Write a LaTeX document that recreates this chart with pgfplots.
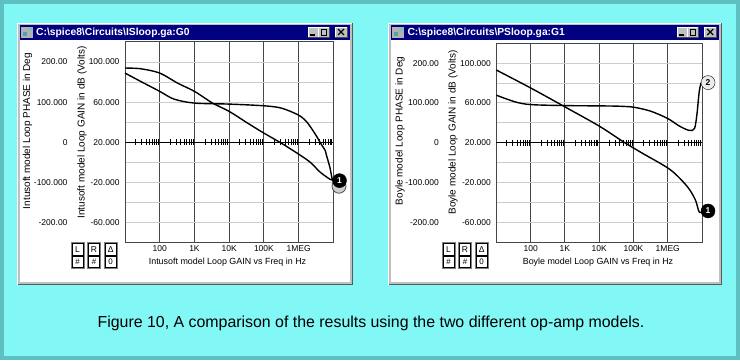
\documentclass[border=0pt]{standalone}
\usepackage{fontspec}
\setmainfont{Liberation Sans}
\usepackage{pgfplots}
\pgfplotsset{compat=1.18}
\definecolor{bgcyan}{HTML}{82F8F6}
\definecolor{bgedge}{HTML}{5EC0C0}
\definecolor{navy}{HTML}{000080}
\definecolor{wingray}{HTML}{C0C0C0}
\definecolor{hgrid}{HTML}{C8D0C8}
\definecolor{vgrid}{HTML}{404848}

\pgfplotsset{
 curve/.style={black, line width=1.4bp, smooth, tension=0.5, mark=none},
 blackmark/.style={only marks, mark=*, mark size=7bp,
   mark options={fill=black, draw=black},
   every node near coord/.append style={anchor=center, text=white,
     font=\fontsize{8.5bp}{9bp}\selectfont\bfseries}},
 graymark/.style={only marks, mark=*, mark size=7bp,
   mark options={fill=wingray!80, draw=black!70, line width=0.8bp},
   every node near coord/.append style={anchor=center, text=black,
     font=\fontsize{8.5bp}{9bp}\selectfont\bfseries}},
 zerotick/.style={only marks, mark=|, mark size=3bp,
   mark options={black, line width=0.7bp}},
}

\newcommand{\winframe}[3]{%
  \fill[wingray] (#1,75) rectangle (#2,337);
  \draw[black!65, line width=1bp] (#1,75.5) -- (#2-0.5,75.5) -- (#2-0.5,337);
  \draw[white, line width=0.8bp] (#1+0.5,75.5) -- (#1+0.5,336.5) -- (#2-0.5,336.5);
  \fill[white] (#1+3,78) rectangle (#2-3,320);
  \fill[navy] (#1+2.5,320) rectangle (#2-2.5,335);
  \fill[gray!60] (#1+4,322.5) rectangle (#1+16,333);
  \fill[teal!70] (#1+5.5,324) rectangle (#1+10,328);
  \fill[teal!50] (#1+10.5,328.5) rectangle (#1+14.5,332);
  \node[anchor=west, inner sep=0pt, text=white,
    font=\fontsize{10.3bp}{12bp}\selectfont\bfseries] at (#1+19,327.5) {#3};
  \foreach \a/\b in {44.5/34.5, 34/23.5, 17.5/5.5}{
    \fill[wingray] (#2-\a,323) rectangle (#2-\b,333);
    \draw[black!70, line width=0.6bp] (#2-\a,323) -- (#2-\b,323) -- (#2-\b,333);
    \draw[white, line width=0.6bp] (#2-\a,323) -- (#2-\a,333) -- (#2-\b,333);
  }
  \draw[black, line width=1.2bp] (#2-42.5,325) -- (#2-37.5,325);
  \draw[black, line width=0.8bp] (#2-31.5,325) rectangle (#2-26,331);
  \draw[black, line width=1bp] (#2-31.5,330.5) -- (#2-26,330.5);
  \draw[black, line width=1.2bp] (#2-14.5,325) -- (#2-8.5,331) (#2-14.5,331) -- (#2-8.5,325);
}
\newcommand{\ctrlboxes}[1]{%
  \foreach \a/\t/\u in {0/L/\#, 16.5/R/\#, 33.2/Δ/0}{
    \draw[black, line width=0.7bp] (#1+\a,104.7) rectangle (#1+\a+11,116.5);
    \draw[black, line width=0.7bp] (#1+\a,92.5) rectangle (#1+\a+11,104);
    \draw[gray, line width=0.5bp] (#1+\a-1.2,91.5) rectangle (#1+\a+12.2,117.5);
    \node[font=\fontsize{8.5bp}{10bp}\selectfont, inner sep=0pt] at (#1+\a+5.5,110.6) {\t};
    \node[font=\fontsize{8bp}{10bp}\selectfont, inner sep=0pt] at (#1+\a+5.5,98.2) {\u};
  }
}

\begin{document}
\begin{tikzpicture}[x=1bp, y=1bp]
\useasboundingbox (0,0) rectangle (740,360);
\fill[bgedge] (0,0) rectangle (740,360);
\fill[bgcyan] (4,4) rectangle (736,356);

\winframe{17}{352.5}{C:\textbackslash spice8\textbackslash Circuits\textbackslash ISloop.ga:G0}
\winframe{388.3}{721.7}{C:\textbackslash spice8\textbackslash Circuits\textbackslash PSloop.ga:G1}

% ---------- left plot (Intusoft) ----------
\begin{axis}[
   scale only axis, anchor=south west,
   at={(125bp,117.7bp)}, width=208.4bp, height=200.3bp,
   xmode=log, xmin=10, xmax=1e7, ymin=-80, ymax=120,
   xtick={100,1000,10000,100000,1000000},
   xticklabels={100,1K,10K,100K,1MEG},
   ytick={-60,-20,20,60,100},
   yticklabels={-60.000,-20.000,20.000,60.000,100.000},
   minor ytick={-60,-40,-20,0,40,60,80,100},
   extra y ticks={-60,-20,20,60,100},
   extra y tick labels={-200.00,-100.000,0,100.000,200.00},
   extra y tick style={grid=none, yticklabel style={xshift=-52bp}},
   xmajorgrids, yminorgrids,
   major grid style={vgrid, line width=1bp},
   minor grid style={hgrid, line width=1bp},
   major tick length=0pt, minor tick length=0pt,
   axis line style={vgrid, line width=1bp},
   tick label style={font=\fontsize{8.5bp}{10bp}\selectfont, text=black},
   yticklabel style={xshift=-2bp},
   clip=false]
% phase-zero reference line with its minor ticks
\addplot[black, line width=1bp] coordinates {(10,20) (10000000,20)};
\addplot[zerotick] coordinates {
 (20,20) (30,20) (40,20) (50,20) (60,20) (70,20) (80,20) (90,20)
 (200,20) (300,20) (400,20) (500,20) (600,20) (700,20) (800,20) (900,20)
 (2000,20) (3000,20) (4000,20) (5000,20) (6000,20) (7000,20) (8000,20) (9000,20)
 (20000,20) (30000,20) (40000,20) (50000,20) (60000,20) (70000,20) (80000,20) (90000,20)
 (200000,20) (300000,20) (400000,20) (500000,20) (600000,20) (700000,20) (800000,20) (900000,20)
 (2000000,20) (3000000,20) (4000000,20) (5000000,20) (6000000,20) (7000000,20) (8000000,20) (9000000,20)};
% loop gain (dB)
\addplot[curve] coordinates {
 (10,94) (28,93.3) (100,89) (324,79) (1000,70.7) (3311,59) (10000,50.7)
 (33900,39) (100000,29) (316000,19) (1000000,8) (2140000,0)
 (4170000,-10) (7940000,-17) (10000000,-18)};
% loop phase (deg, drawn on the dB scale: dB = 20 + deg/2.5)
\addplot[curve] coordinates {
 (10,89) (28,80.7) (100,70.7) (257,63) (1000,59) (10000,58) (100000,56.3)
 (316000,54) (955000,47.3) (1660000,40.7) (2880000,29) (4570000,17.3)
 (5750000,12) (6300000,7) (7900000,-5) (9100000,-16) (10000000,-19)};
\addplot[graymark] coordinates {(14500000,-24)};
\addplot[blackmark, nodes near coords={1}] coordinates {(15000000,-18.4)};
\end{axis}

% ---------- right plot (Boyle) ----------
\begin{axis}[
   scale only axis, anchor=south west,
   at={(496.4bp,117.8bp)}, width=205.6bp, height=199bp,
   xmode=log, xmin=10, xmax=1e7, ymin=-80, ymax=120,
   xtick={100,1000,10000,100000,1000000},
   xticklabels={100,1K,10K,100K,1MEG},
   ytick={-60,-20,20,60,100},
   yticklabels={-60.000,-20.000,20.000,60.000,100.000},
   minor ytick={-60,-40,-20,0,40,60,80,100},
   extra y ticks={-60,-20,20,60,100},
   extra y tick labels={-200.00,-100.000,0,100.000,200.00},
   extra y tick style={grid=none, yticklabel style={xshift=-52bp}},
   xmajorgrids, yminorgrids,
   major grid style={vgrid, line width=1bp},
   minor grid style={hgrid, line width=1bp},
   major tick length=0pt, minor tick length=0pt,
   axis line style={vgrid, line width=1bp},
   tick label style={font=\fontsize{8.5bp}{10bp}\selectfont, text=black},
   yticklabel style={xshift=-2bp},
   clip=false]
\addplot[black, line width=1bp] coordinates {(10,20) (10000000,20)};
\addplot[zerotick] coordinates {
 (20,20) (30,20) (40,20) (50,20) (60,20) (70,20) (80,20) (90,20)
 (200,20) (300,20) (400,20) (500,20) (600,20) (700,20) (800,20) (900,20)
 (2000,20) (3000,20) (4000,20) (5000,20) (6000,20) (7000,20) (8000,20) (9000,20)
 (20000,20) (30000,20) (40000,20) (50000,20) (60000,20) (70000,20) (80000,20) (90000,20)
 (200000,20) (300000,20) (400000,20) (500000,20) (600000,20) (700000,20) (800000,20) (900000,20)
 (2000000,20) (3000000,20) (4000000,20) (5000000,20) (6000000,20) (7000000,20) (8000000,20) (9000000,20)};
\addplot[curve] coordinates {
 (10,93) (100,75) (1000,56) (10000,36.7) (50000,21) (170000,10)
 (1170000,-7) (3700000,-24) (6300000,-37) (7760000,-47) (8500000,-50) (10000000,-50)};
\addplot[curve] coordinates {
 (10,67.7) (35.5,61) (100,58.3) (1000,57.3) (10000,57) (35500,56.7)
 (100000,55.7) (316000,51.7) (1000000,44.3) (2190000,36.7) (4270000,32.3)
 (6030000,34.3) (7080000,48) (8320000,71.7) (9500000,80.5)};
\addplot[graymark, mark options={fill=white!85!gray}, nodes near coords={2}] coordinates {(15000000,80.4)};
\addplot[blackmark, nodes near coords={1}] coordinates {(15000000,-48.6)};
\end{axis}

% axis titles
\node[rotate=90, font=\fontsize{10bp}{12bp}\selectfont] at (27.5,229) {Intusoft model Loop PHASE in Deg};
\node[rotate=90, font=\fontsize{10bp}{12bp}\selectfont] at (82,227.5) {Intusoft model Loop GAIN in dB (Volts)};
\node[font=\fontsize{8.9bp}{10bp}\selectfont] at (227.5,98.3) {Intusoft model Loop GAIN vs Freq in Hz};
\node[rotate=90, font=\fontsize{10bp}{12bp}\selectfont] at (400,229) {Boyle model Loop PHASE in Deg};
\node[rotate=90, font=\fontsize{10bp}{12bp}\selectfont] at (453,227.5) {Boyle model Loop GAIN in dB (Volts)};
\node[font=\fontsize{8.9bp}{10bp}\selectfont] at (598,98.3) {Boyle model Loop GAIN vs Freq in Hz};

\ctrlboxes{72}
\ctrlboxes{443}

\node[font=\fontsize{15.9bp}{18bp}\selectfont] at (371,37) {Figure 10, A comparison of the results using the two different op-amp models.};
\end{tikzpicture}
\end{document}
